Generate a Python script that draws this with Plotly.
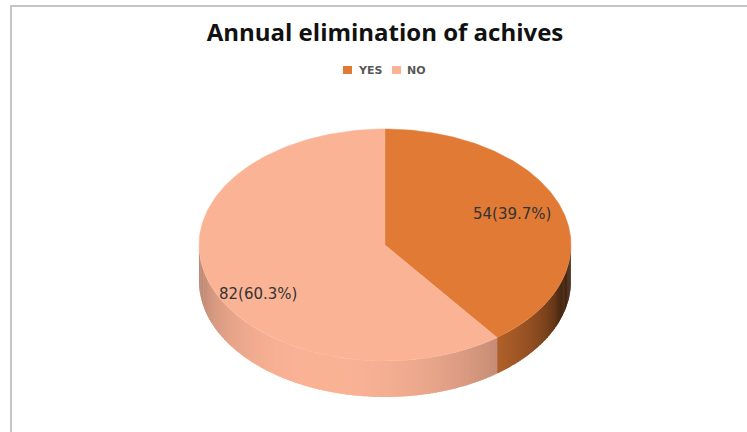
import numpy as np
import plotly.graph_objects as go

# ---- data ----
categories = ["YES", "NO"]
counts = [54, 82]
top_colors = ["#E07A35", "#FBB396"]
chart_title = "Annual elimination of achives"

# ---- geometry of the tilted pie (pixel space) ----
W, H = 747, 432
CX, CY = 385, 245        # centre of the top face
RX, RY = 186, 116        # radii of the top ellipse
DEPTH = 36               # thickness of the disc
LABEL_R = 0.72           # radial position of data labels
LABEL_NUDGE = [(0, -4), (0, 22)]
LEGEND_X = [343, 392]    # left edge of each legend swatch

total = sum(counts)
shares = [c / total for c in counts]
starts = np.concatenate([[0.0], np.cumsum(shares)[:-1]]) * 360.0
ends = np.cumsum(shares) * 360.0


def ell(theta_deg, dy=0.0, r=1.0):
    """Point on the ellipse, angle measured clockwise from 12 o'clock."""
    t = np.radians(theta_deg)
    return CX + r * RX * np.sin(t), CY - r * RY * np.cos(t) + dy


def hex_to_rgb(h):
    h = h.lstrip("#")
    return tuple(int(h[i:i + 2], 16) for i in (0, 2, 4))


def shaded(h, f):
    r, g, b = hex_to_rgb(h)
    return "rgb(%d,%d,%d)" % (min(255, r * f), min(255, g * f), min(255, b * f))


def side_factor(theta_deg):
    # light comes from the front, slightly from the left
    c = max(np.cos(np.radians(theta_deg - 200.0)), 0.0)
    return 0.3 + 0.7 * c ** 0.6


fig = go.Figure()

# ---- side walls (front half only), drawn as thin overlapping shaded strips ----
STEP = 1.0
for k in range(len(counts)):
    a0, a1 = max(starts[k], 90.0), min(ends[k], 270.0)
    if a1 <= a0:
        continue
    n = int(np.ceil((a1 - a0) / STEP))
    edges = np.linspace(a0, a1, n + 1)
    for i in range(n):
        e0 = edges[i]
        e1 = min(edges[i + 1] + 0.6 * STEP, a1)   # overlap hides seams
        ta = np.linspace(e0, e1, 4)
        xt, yt = ell(ta)
        xb, yb = ell(ta[::-1], DEPTH)
        col = shaded(top_colors[k], side_factor(0.5 * (edges[i] + edges[i + 1])))
        fig.add_trace(go.Scatter(
            x=np.concatenate([xt, xb, xt[:1]]),
            y=np.concatenate([yt, yb, yt[:1]]),
            mode="lines", fill="toself", fillcolor=col,
            line=dict(width=0),
            hoverinfo="skip", showlegend=False))

# ---- top faces ----
for k in range(len(counts)):
    ta = np.linspace(starts[k], ends[k], 200)
    xs, ys = ell(ta)
    fig.add_trace(go.Scatter(
        x=np.concatenate([[CX], xs, [CX]]),
        y=np.concatenate([[CY], ys, [CY]]),
        mode="lines", fill="toself", fillcolor=top_colors[k],
        line=dict(color=top_colors[k], width=0.5),
        hoverinfo="skip", showlegend=False))

# ---- data labels ----
annotations = []
for k in range(len(counts)):
    mid = 0.5 * (starts[k] + ends[k])
    lx, ly = ell(mid, r=LABEL_R)
    dx, dy = LABEL_NUDGE[k]
    annotations.append(dict(
        x=lx + dx, y=ly + dy, xref="x", yref="y", showarrow=False,
        text="%d(%.1f%%)" % (counts[k], shares[k] * 100),
        font=dict(family="DejaVu Sans", size=15, color="#333333"),
        xanchor="center", yanchor="middle"))

# ---- legend (compact, centred under the title) ----
shapes = [dict(type="rect", xref="x", yref="y", x0=11, y0=6, x1=W + 20, y1=H + 20,
               line=dict(color="#c4c4c4", width=2), fillcolor="rgba(0,0,0,0)",
               layer="above")]
for k, name in enumerate(categories):
    lx = LEGEND_X[k]
    shapes.append(dict(type="rect", xref="x", yref="y",
                       x0=lx, y0=66, x1=lx + 9, y1=74,
                       fillcolor=top_colors[k], line=dict(width=0)))
    annotations.append(dict(x=lx + 13, y=70, xref="x", yref="y", showarrow=False,
                            text="<b>%s</b>" % name, xanchor="left", yanchor="middle",
                            font=dict(family="DejaVu Sans", size=11, color="#595959")))

fig.update_layout(
    width=W, height=H,
    margin=dict(l=0, r=0, t=0, b=0),
    paper_bgcolor="white", plot_bgcolor="white",
    title=dict(text="<b>%s</b>" % chart_title, x=385 / W, y=1 - 33 / H,
               xanchor="center", yanchor="middle", xref="paper", yref="paper",
               font=dict(family="Open Sans", size=24, color="#111111")),
    xaxis=dict(range=[0, W], visible=False, fixedrange=True),
    yaxis=dict(range=[H, 0], visible=False, fixedrange=True),
    shapes=shapes, annotations=annotations,
    showlegend=False,
)

fig.write_html("out.html")
